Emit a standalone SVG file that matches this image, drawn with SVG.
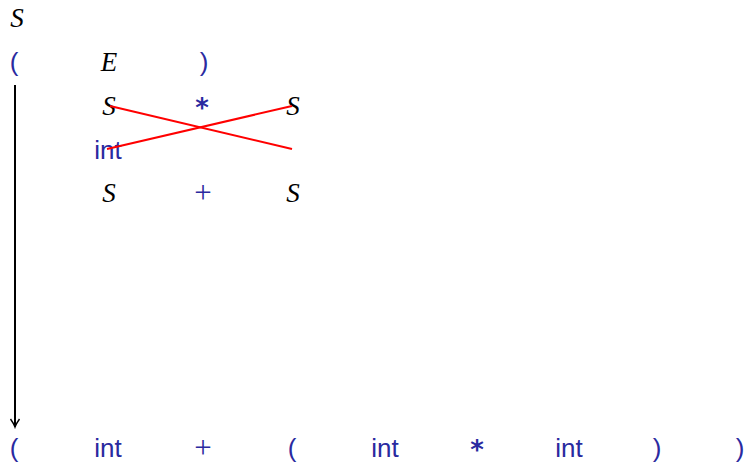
<svg xmlns="http://www.w3.org/2000/svg" width="746" height="464" viewBox="0 0 746 464">
<defs>
<style>
.m{font-family:"Liberation Serif","DejaVu Serif",serif;font-style:italic;font-size:27px;fill:#000;text-anchor:middle}
.t{font-family:"Liberation Sans","DejaVu Sans",sans-serif;font-size:26px;fill:#2a2aa0;text-anchor:middle}
.a{font-family:"DejaVu Sans Mono","Liberation Mono",monospace;font-size:26px;font-weight:bold;fill:#2a2aa0;text-anchor:middle}
.p{font-family:"Liberation Serif","DejaVu Serif",serif;font-size:31px;fill:#2a2aa0;text-anchor:middle}
.x{stroke:#ff0000;stroke-width:2;fill:none}
</style>
<marker id="ah" viewBox="0 0 12 12" refX="10" refY="6" markerWidth="12" markerHeight="12" orient="auto" markerUnits="userSpaceOnUse">
<path d="M2,1.5 Q7,5 10,6 Q7,7 2,10.5" fill="none" stroke="#000" stroke-width="1.4"/>
</marker>
</defs>
<g id="root"><text class="m" x="17" y="27">S</text></g>
<g id="row1">
<text class="t" x="14" y="71">(</text>
<text class="m" x="109" y="71">E</text>
<text class="t" x="204" y="71">)</text>
</g>
<g id="row2">
<text class="m" x="109" y="115">S</text>
<text class="a" x="202" y="117">*</text>
<text class="m" x="293" y="115">S</text>
</g>
<g id="int1"><text class="t" x="108" y="159">int</text></g>
<g id="row3">
<text class="m" x="109" y="202">S</text>
<text class="p" x="203" y="203">+</text>
<text class="m" x="293" y="202">S</text>
</g>
<g id="bottom">
<text class="t" x="14" y="457">(</text>
<text class="t" x="108" y="457">int</text>
<text class="p" x="203" y="458">+</text>
<text class="t" x="292" y="457">(</text>
<text class="t" x="385" y="457">int</text>
<text class="a" x="477" y="459">*</text>
<text class="t" x="569" y="457">int</text>
<text class="t" x="657" y="457">)</text>
<text class="t" x="740" y="457">)</text>
</g>
<g id="connectors">
<line x1="15" y1="85" x2="15" y2="427" stroke="#000" stroke-width="2" marker-end="url(#ah)"/>
<line class="x" x1="110" y1="106" x2="292" y2="149"/>
<line class="x" x1="107" y1="149" x2="292" y2="106"/>
</g>
</svg>
